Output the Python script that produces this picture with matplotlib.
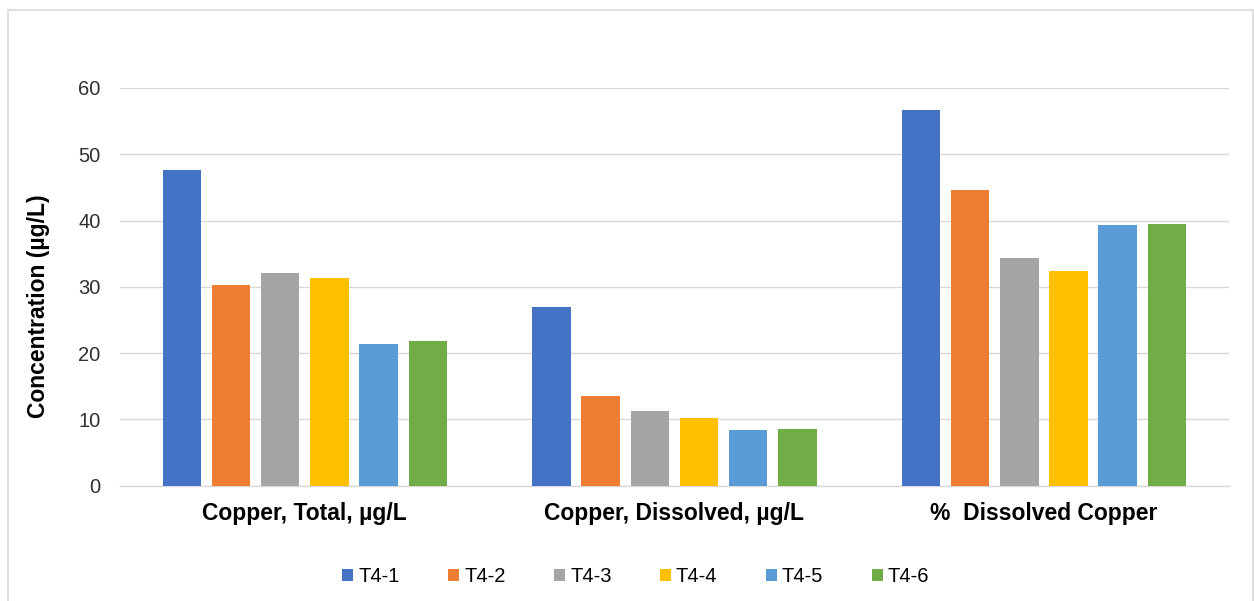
import numpy as np
import matplotlib
matplotlib.use("Agg")
import matplotlib.pyplot as plt
from matplotlib.lines import Line2D

plt.rcParams['font.family'] = ['Liberation Sans', 'DejaVu Sans']

# Copper results per sample
categories = ['Copper, Total, µg/L', 'Copper, Dissolved, µg/L', '%  Dissolved Copper']
samples = ['T4-1', 'T4-2', 'T4-3', 'T4-4', 'T4-5', 'T4-6']
t4_1 = [47.6, 27.0, 56.7]
t4_2 = [30.3, 13.6, 44.6]
t4_3 = [32.1, 11.2, 34.4]
t4_4 = [31.4, 10.2, 32.4]
t4_5 = [21.4, 8.4, 39.4]
t4_6 = [21.8, 8.6, 39.5]
series = [t4_1, t4_2, t4_3, t4_4, t4_5, t4_6]
colors = ['#4472C4', '#ED7D31', '#A5A5A5', '#FFC000', '#5B9BD5', '#70AD47']

fig = plt.figure(figsize=(12.54, 6.01), dpi=100)
ax = fig.add_axes([0.0957, 0.1918, 0.8841, 0.6618])

x = np.arange(len(categories))
pitch = 0.1331
width = 0.104
for i, (vals, name, c) in enumerate(zip(series, samples, colors)):
    ax.bar(x + (i - 2.5) * pitch, vals, width, color=c, label=name, zorder=3)

ax.set_xlim(-0.5, 2.5)
ax.set_ylim(0, 60)
ax.set_yticks(range(0, 61, 10))
ax.set_xticks(x)
ax.set_xticklabels(categories, fontsize=16.5, fontweight='bold')
ax.tick_params(axis='x', length=0, pad=12)
ax.tick_params(axis='y', length=0, pad=14, labelsize=14.5, labelcolor='#303030')
ax.yaxis.grid(True, color='#d9d9d9', linewidth=1.0, zorder=0)
ax.set_axisbelow(True)
for s in ['top', 'right', 'left']:
    ax.spines[s].set_visible(False)
ax.spines['bottom'].set_color('#d9d9d9')
ax.spines['bottom'].set_linewidth(1.0)

fig.text(39 / 1254, 1 - 306 / 601, 'Concentration (µg/L)', rotation=90,
         fontsize=16.5, fontweight='bold', ha='center', va='center')

fig.legend(loc='center', bbox_to_anchor=(0.507, 1 - 577 / 601), ncol=6,
           frameon=False, fontsize=14.5, handlelength=0.55, handleheight=0.55,
           handletextpad=0.25, columnspacing=2.4)

# chart area border
bc = '#d9d9d9'
x0, x1, y1 = 7.7 / 1254, 1253 / 1254, 1 - 10 / 601
fig.add_artist(Line2D([x0, x1], [y1, y1], transform=fig.transFigure, color=bc, lw=1.2))
fig.add_artist(Line2D([x0, x0], [0, y1], transform=fig.transFigure, color=bc, lw=1.2))
fig.add_artist(Line2D([x1, x1], [0, y1], transform=fig.transFigure, color=bc, lw=1.2))

fig.savefig('out.png', dpi=100)
